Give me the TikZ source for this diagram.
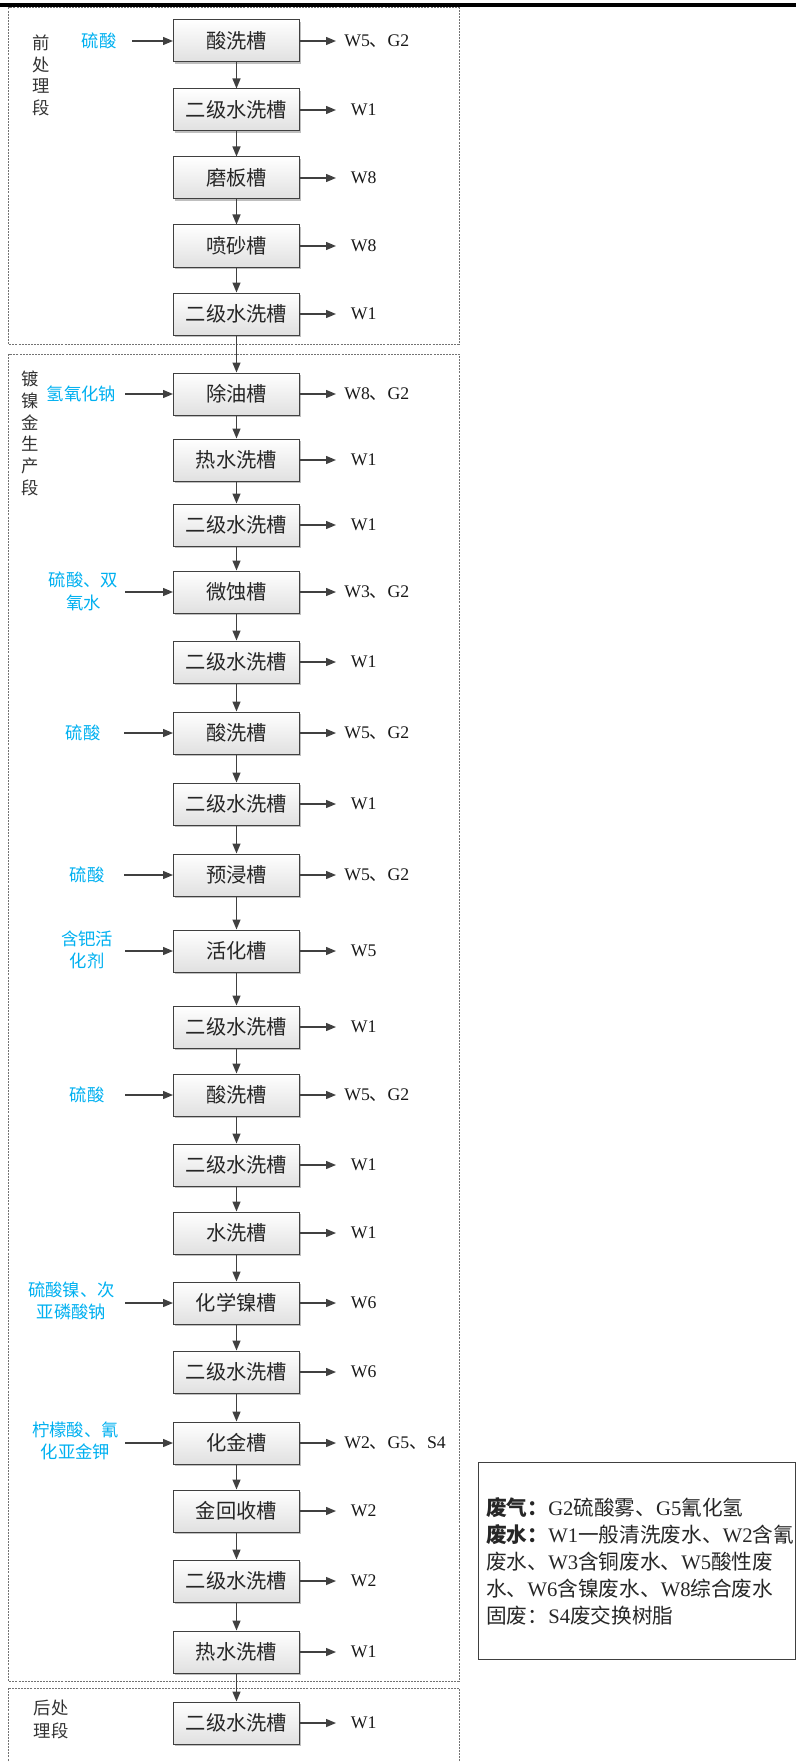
\documentclass[tikz,border=0pt]{standalone}
\usepackage{fontspec}
\setmainfont{Liberation Serif}
\newfontfamily\cjk{Noto Sans CJK SC}
\usetikzlibrary{arrows.meta,shadows}
\definecolor{inblue}{RGB}{0,176,240}
\definecolor{ln}{RGB}{64,64,64}
\begin{document}
\begin{tikzpicture}[x=0.75pt,y=-0.75pt,
  tank/.style={draw=ln, line width=0.75pt, top color=white, bottom color=black!12,
    minimum width=94.5pt, minimum height=31.5pt, inner sep=0pt,
    font=\fontsize{15.2pt}{18pt}\cjk, text=black!85,
    drop shadow={shadow xshift=1.2pt, shadow yshift=-1.2pt, fill=black, opacity=0.25}},
  arr/.style={draw=ln, line width=1pt, -{Triangle[length=7.5pt,width=6pt]}},
  outm/.style={anchor=west, font=\fontsize{13.3pt}{16pt}\selectfont, text=black!90,
    text height=8.8pt, text depth=0pt, inner ysep=0pt, inner xsep=6pt},
  outs/.style={outm, inner xsep=11pt},
  inlab/.style={font=\fontsize{13pt}{17pt}\cjk, text=inblue, align=center, inner sep=0pt},
  sect/.style={font=\fontsize{13pt}{16.25pt}\cjk, text=black!80, align=center, inner sep=0pt},
  zone/.style={draw=black!55, line width=0.6pt, dash pattern=on 1.5pt off 0.8pt},
  legtext/.style={anchor=west, align=left, inner sep=0pt, text=black!85,
    font=\fontsize{15.5pt}{20.25pt}\selectfont}
]
\useasboundingbox (0,0) rectangle (796,1762);

% top rule
\draw[line width=3pt] (0,5) -- (796,5);

% zones
\draw[zone] (8.5,7.5) rectangle (459,344);
\draw[zone] (8.5,354) rectangle (459,1681);
\draw[zone] (8.5,1688) rectangle (459,1780);

% section labels
\node[sect] (s1) at (41,75.5) {前\\处\\理\\段};
\node[sect] (s2) at (30,433.5) {镀\\镍\\金\\生\\产\\段};
\node[sect, font=\fontsize{13pt}{17pt}\cjk] (s3) at (51,1719.5) {后处\\理段};

% tanks
\node[tank] (b1) at (236.5,41) {酸洗槽};
\node[tank] (b2) at (236.5,110) {二级水洗槽};
\node[tank] (b3) at (236.5,178) {磨板槽};
\node[tank] (b4) at (236.5,246) {喷砂槽};
\node[tank] (b5) at (236.5,314) {二级水洗槽};
\node[tank] (b6) at (236.5,394) {除油槽};
\node[tank] (b7) at (236.5,460) {热水洗槽};
\node[tank] (b8) at (236.5,525) {二级水洗槽};
\node[tank] (b9) at (236.5,592) {微蚀槽};
\node[tank] (b10) at (236.5,662) {二级水洗槽};
\node[tank] (b11) at (236.5,733) {酸洗槽};
\node[tank] (b12) at (236.5,804) {二级水洗槽};
\node[tank] (b13) at (236.5,875) {预浸槽};
\node[tank] (b14) at (236.5,951) {活化槽};
\node[tank] (b15) at (236.5,1027) {二级水洗槽};
\node[tank] (b16) at (236.5,1095) {酸洗槽};
\node[tank] (b17) at (236.5,1165) {二级水洗槽};
\node[tank] (b18) at (236.5,1233) {水洗槽};
\node[tank] (b19) at (236.5,1303) {化学镍槽};
\node[tank] (b20) at (236.5,1372) {二级水洗槽};
\node[tank] (b21) at (236.5,1443) {化金槽};
\node[tank] (b22) at (236.5,1511) {金回收槽};
\node[tank] (b23) at (236.5,1581) {二级水洗槽};
\node[tank] (b24) at (236.5,1652) {热水洗槽};
\node[tank] (b25) at (236.5,1723) {二级水洗槽};

% vertical flow
\foreach \a/\b in {b1/b2,b2/b3,b3/b4,b4/b5,b5/b6,b6/b7,b7/b8,b8/b9,b9/b10,b10/b11,
  b11/b12,b12/b13,b13/b14,b14/b15,b15/b16,b16/b17,b17/b18,b18/b19,b19/b20,b20/b21,
  b21/b22,b22/b23,b23/b24,b24/b25}
  \draw[arr] (\a.south) -- (\b.north);

% outputs
\node[outm] (o1) at (336,41) {W5{\cjk 、}G2};
\node[outs] (o2) at (336,110) {W1};
\node[outs] (o3) at (336,178) {W8};
\node[outs] (o4) at (336,246) {W8};
\node[outs] (o5) at (336,314) {W1};
\node[outm] (o6) at (336,394) {W8{\cjk 、}G2};
\node[outs] (o7) at (336,460) {W1};
\node[outs] (o8) at (336,525) {W1};
\node[outm] (o9) at (336,592) {W3{\cjk 、}G2};
\node[outs] (o10) at (336,662) {W1};
\node[outm] (o11) at (336,733) {W5{\cjk 、}G2};
\node[outs] (o12) at (336,804) {W1};
\node[outm] (o13) at (336,875) {W5{\cjk 、}G2};
\node[outs] (o14) at (336,951) {W5};
\node[outs] (o15) at (336,1027) {W1};
\node[outm] (o16) at (336,1095) {W5{\cjk 、}G2};
\node[outs] (o17) at (336,1165) {W1};
\node[outs] (o18) at (336,1233) {W1};
\node[outs] (o19) at (336,1303) {W6};
\node[outs] (o20) at (336,1372) {W6};
\node[outm] (o21) at (336,1443) {W2{\cjk 、}G5{\cjk 、}S4};
\node[outs] (o22) at (336,1511) {W2};
\node[outs] (o23) at (336,1581) {W2};
\node[outs] (o24) at (336,1652) {W1};
\node[outs] (o25) at (336,1723) {W1};
\foreach \i in {1,...,25}
  \draw[arr] (b\i.east) -- (o\i.west);

% inputs
\node[inlab] (i1) at (99,41) {硫酸};
\node[inlab] (i6) at (81.5,394) {氢氧化钠};
\node[inlab] (i9) at (83.5,591.5) {硫酸、双\\氧水};
\node[inlab] (i11) at (83,733) {硫酸};
\node[inlab] (i13) at (87,875) {硫酸};
\node[inlab] (i14) at (87,950) {含钯活\\化剂};
\node[inlab] (i16) at (87,1095) {硫酸};
\node[inlab] (i19) at (71.5,1301) {硫酸镍、次\\亚磷酸钠};
\node[inlab] (i21) at (75.5,1441) {柠檬酸、氰\\化亚金钾};
\coordinate (a1) at (132,41);
\coordinate (a6) at (125,394);
\coordinate (a9) at (125,592);
\coordinate (a11) at (124,733);
\coordinate (a13) at (124,875);
\coordinate (a14) at (125,951);
\coordinate (a16) at (125,1095);
\coordinate (a19) at (125,1303);
\coordinate (a21) at (125,1443);
\foreach \i in {1,6,9,11,13,14,16,19,21}
  \draw[arr] (a\i) -- (b\i.west);

% legend
\draw[draw=ln, line width=0.75pt] (478,1462) rectangle (795.5,1659);
\node[legtext] (leg) at (486,1561) {%
{\bfseries\cjk 废气：}G2{\cjk 硫酸雾、}G5{\cjk 氰化氢}\\
{\bfseries\cjk 废水：}W1{\cjk 一般清洗废水、}W2{\cjk 含氰}\\
{\cjk 废水、}W3{\cjk 含铜废水、}W5{\cjk 酸性废}\\
{\cjk 水、}W6{\cjk 含镍废水、}W8{\cjk 综合废水}\\
{\cjk 固废：}S4{\cjk 废交换树脂}};
\end{tikzpicture}
\end{document}
